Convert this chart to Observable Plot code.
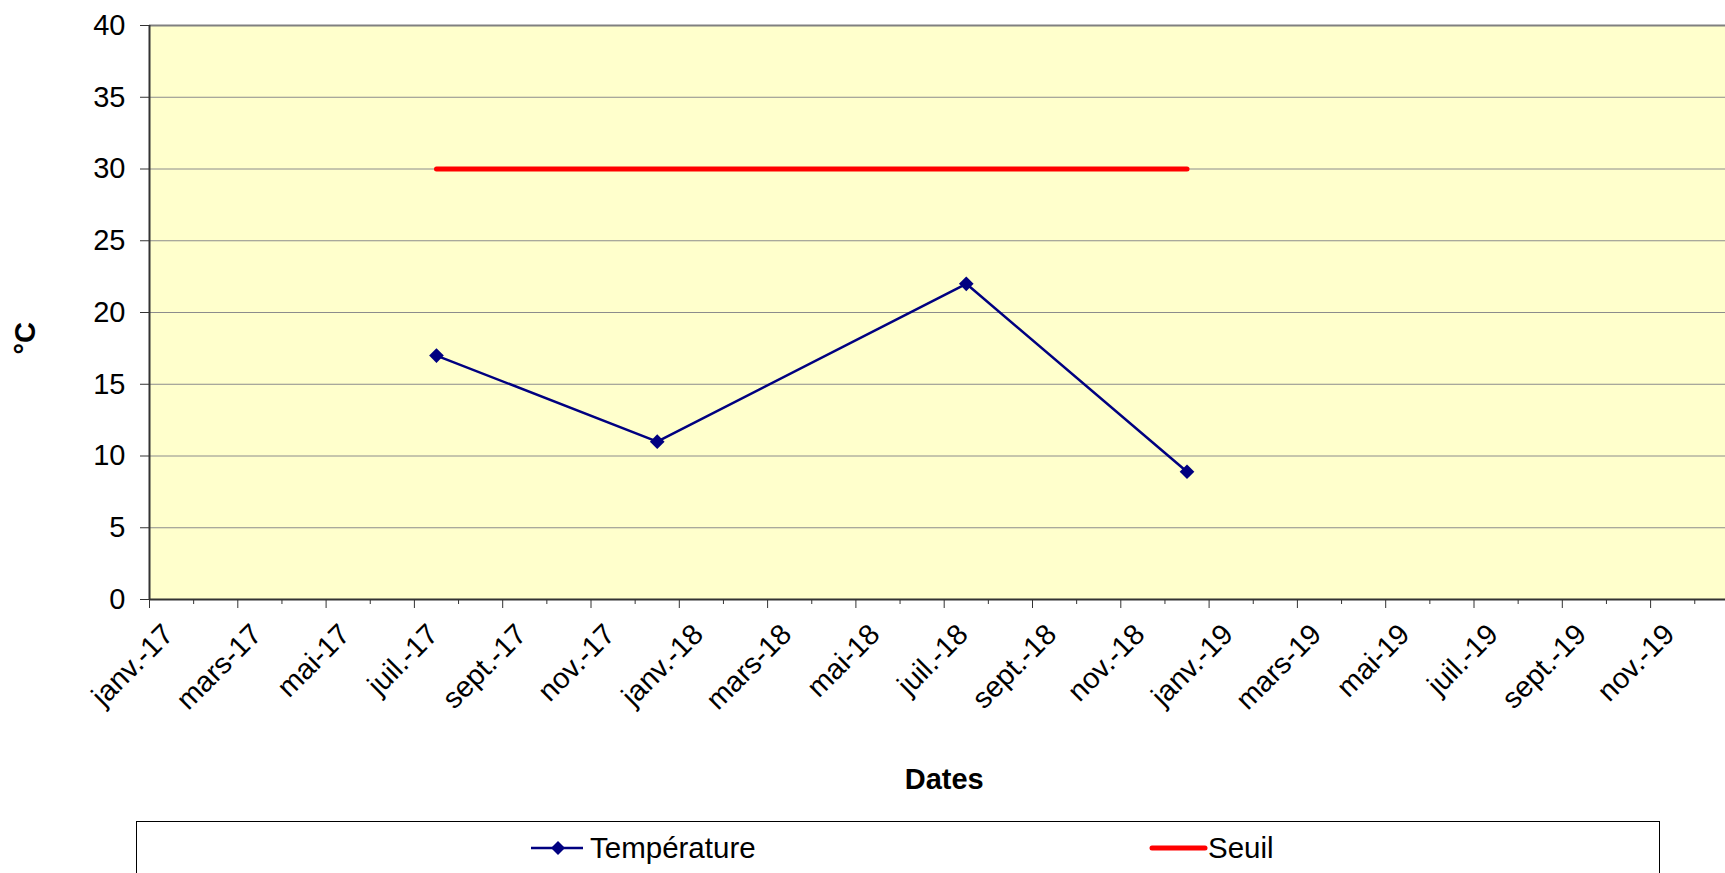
<!DOCTYPE html>
<html>
<head>
<meta charset="utf-8">
<script src="https://cdn.jsdelivr.net/npm/d3@7"></script>
<script src="https://cdn.jsdelivr.net/npm/@observablehq/plot@0.6"></script>
<style>
  html, body { margin: 0; padding: 0; overflow: hidden; background: #fff; }
  #wrap { position: relative; width: 1725px; height: 873px; overflow: hidden; font-family: "Liberation Sans", Arial, sans-serif; }
  #wrap svg.plot { max-width: none !important; width: 1760px; height: 810px; display: block; }
  #legend { position: absolute; left: 136px; top: 821px; width: 1524px; height: 120px; border: 1.5px solid #000; box-sizing: border-box; background: #fff; }
  .item { position: absolute; font-size: 29.5px; line-height: 32px; color: #000; white-space: nowrap; }
  .sw { position: absolute; }
</style>
</head>
<body>
<div id="wrap"></div>
<script>
// ---- Data ----
const dates = ["2017-07", "2017-12", "2018-07", "2018-12"];
const temperature = [17, 11, 22, 8.9];
const seuil = [30, 30, 30, 30];
const xTickLabels = ["janv.-17","mars-17","mai-17","juil.-17","sept.-17","nov.-17",
  "janv.-18","mars-18","mai-18","juil.-18","sept.-18","nov.-18",
  "janv.-19","mars-19","mai-19","juil.-19","sept.-19","nov.-19"];
const yTicks = [0, 5, 10, 15, 20, 25, 30, 35, 40];

// month index (0 = janv. 2017), points centred in their month
const monthIndex = s => { const [y, m] = s.split("-").map(Number); return (y - 2017) * 12 + (m - 1) + 0.5; };
const tempData = dates.map((d, i) => ({x: monthIndex(d), y: temperature[i]}));
const seuilData = dates.map((d, i) => ({x: monthIndex(d), y: seuil[i]}));
const majorIdx = xTickLabels.map((_, i) => i * 2);
const minorIdx = xTickLabels.map((_, i) => i * 2 + 1);

const font = "Liberation Sans, Arial, sans-serif";

const chart = Plot.plot({
  width: 1760,
  height: 810,
  marginLeft: 149,
  marginRight: 21.6,
  marginTop: 25,
  marginBottom: 211,
  style: {fontFamily: font, color: "#000", background: "transparent", overflow: "visible", maxWidth: "none"},
  x: {domain: [0, 36], axis: null},
  y: {domain: [0, 40], axis: null},
  marks: [
    Plot.frame({fill: "#FFFFCC", stroke: null}),
    Plot.ruleY(yTicks.filter(v => v > 0 && v < 40), {stroke: "#8c8c8c", strokeWidth: 1}),
    Plot.ruleY([40], {stroke: "#808080", strokeWidth: 2}),
    Plot.axisY({ticks: yTicks, tickSize: 9, tickPadding: 15, fontSize: 29, stroke: "#333", label: null}),
    Plot.axisX({ticks: majorIdx, tickSize: 9, tickFormat: () => "", stroke: "#333", label: null}),
    Plot.axisX({ticks: minorIdx, tickSize: 5, tickFormat: () => "", stroke: "#333", label: null}),
    Plot.ruleX([0], {stroke: "#333", strokeWidth: 2}),
    Plot.ruleY([0], {stroke: "#333", strokeWidth: 2}),
    Plot.line(seuilData, {x: "x", y: "y", stroke: "#FF0000", strokeWidth: 5, strokeLinecap: "round"}),
    Plot.line(tempData, {x: "x", y: "y", stroke: "#000080", strokeWidth: 2.5}),
    Plot.dot(tempData, {x: "x", y: "y", symbol: "diamond2", r: 6.6, fill: "#000080", stroke: null}),
    Plot.text(majorIdx, {x: d => d, text: (d, i) => xTickLabels[i], frameAnchor: "bottom",
      rotate: -45, textAnchor: "end", lineAnchor: "middle", dx: 19, dy: 30, fontSize: 29, fill: "#000"}),
    Plot.text(["°C"], {text: d => d, frameAnchor: "left", dx: -124, dy: 42, rotate: -90,
      fontWeight: "bold", fontSize: 29, fill: "#000"}),
    Plot.text(["Dates"], {text: d => d, frameAnchor: "bottom", dy: 189, fontWeight: "bold", fontSize: 29, fill: "#000"})
  ]
});

const wrap = document.getElementById("wrap");
wrap.appendChild(chart);

// ---- Legend (HTML, below the SVG) ----
const legend = document.createElement("div");
legend.id = "legend";
legend.innerHTML = `
  <svg class="sw" style="left:394px; top:16px" width="54" height="20">
    <line x1="0" y1="10" x2="52" y2="10" stroke="#000080" stroke-width="2.5"></line>
    <path d="M27,3 L34,10 L27,17 L20,10 Z" fill="#000080"></path>
  </svg>
  <div class="item" style="left:453px; top:10px">Température</div>
  <svg class="sw" style="left:1012px; top:16px" width="60" height="20">
    <line x1="3" y1="10" x2="56" y2="10" stroke="#FF0000" stroke-width="5" stroke-linecap="round"></line>
  </svg>
  <div class="item" style="left:1071px; top:10px">Seuil</div>
`;
wrap.appendChild(legend);
</script>
</body>
</html>
